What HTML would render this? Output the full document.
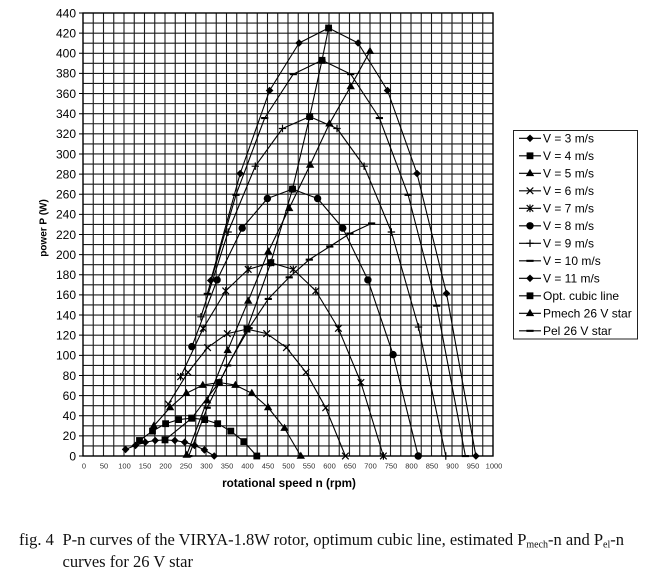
<!DOCTYPE html>
<html><head><meta charset="utf-8"><style>
html,body{margin:0;padding:0;background:#fff;}
svg{display:block;}
</style></head><body>
<svg width="655" height="583" viewBox="0 0 655 583" xmlns="http://www.w3.org/2000/svg">
<defs>
<marker id="mD" markerUnits="userSpaceOnUse" markerWidth="12" markerHeight="12" refX="6" refY="6" overflow="visible"><path d="M6 2.2L9.8 6L6 9.8L2.2 6Z" fill="#000"/></marker>
<marker id="mS" markerUnits="userSpaceOnUse" markerWidth="12" markerHeight="12" refX="6" refY="6" overflow="visible"><rect x="2.6" y="2.6" width="6.8" height="6.8" fill="#000"/></marker>
<marker id="mT" markerUnits="userSpaceOnUse" markerWidth="12" markerHeight="12" refX="6" refY="6" overflow="visible"><path d="M6 1.6L10.2 8.8L1.8 8.8Z" fill="#000"/></marker>
<marker id="mX" markerUnits="userSpaceOnUse" markerWidth="12" markerHeight="12" refX="6" refY="6" overflow="visible"><path d="M2.7 2.7L9.3 9.3M2.7 9.3L9.3 2.7" stroke="#000" stroke-width="1.2" fill="none"/></marker>
<marker id="mA" markerUnits="userSpaceOnUse" markerWidth="12" markerHeight="12" refX="6" refY="6" overflow="visible"><path d="M2.7 2.7L9.3 9.3M2.7 9.3L9.3 2.7M6 2.2V9.8" stroke="#000" stroke-width="1.2" fill="none"/></marker>
<marker id="mC" markerUnits="userSpaceOnUse" markerWidth="12" markerHeight="12" refX="6" refY="6" overflow="visible"><circle cx="6" cy="6" r="3.7" fill="#000"/></marker>
<marker id="mP" markerUnits="userSpaceOnUse" markerWidth="12" markerHeight="12" refX="6" refY="6" overflow="visible"><path d="M6 2.3V9.7M2.3 6H9.7" stroke="#000" stroke-width="1.2" fill="none"/></marker>
<marker id="mM" markerUnits="userSpaceOnUse" markerWidth="12" markerHeight="12" refX="6" refY="6" overflow="visible"><rect x="2.4" y="5" width="7.2" height="2.1" fill="#000"/></marker>
</defs>

<!-- grid -->
<path fill="none" stroke="#1c1c1c" stroke-width="1.1" d="
M93.25 13V456M103.5 13V456M113.75 13V456M124 13V456M134.25 13V456M144.5 13V456M154.75 13V456M165 13V456M175.25 13V456M185.5 13V456M195.75 13V456M206 13V456M216.25 13V456M226.5 13V456M236.75 13V456M247 13V456M257.25 13V456M267.5 13V456M277.75 13V456M288 13V456M298.25 13V456M308.5 13V456M318.75 13V456M329 13V456M339.25 13V456M349.5 13V456M359.75 13V456M370 13V456M380.25 13V456M390.5 13V456M400.75 13V456M411 13V456M421.25 13V456M431.5 13V456M441.75 13V456M452 13V456M462.25 13V456M472.5 13V456M482.75 13V456
M83 445.93H493M83 435.86H493M83 425.8H493M83 415.73H493M83 405.66H493M83 395.59H493M83 385.52H493M83 375.46H493M83 365.39H493M83 355.32H493M83 345.25H493M83 335.18H493M83 325.12H493M83 315.05H493M83 304.98H493M83 294.91H493M83 284.84H493M83 274.78H493M83 264.71H493M83 254.64H493M83 244.57H493M83 234.5H493M83 224.44H493M83 214.37H493M83 204.3H493M83 194.23H493M83 184.16H493M83 174.1H493M83 164.03H493M83 153.96H493M83 143.89H493M83 133.82H493M83 123.76H493M83 113.69H493M83 103.62H493M83 93.55H493M83 83.48H493M83 73.42H493M83 63.35H493M83 53.28H493M83 43.21H493M83 33.14H493M83 23.08H493"/>
<rect x="83" y="13" width="410" height="443" fill="none" stroke="#000" stroke-width="1.4"/>
<!-- y ticks -->
<path stroke="#000" stroke-width="1" d="M79 456H83M79 435.86H83M79 415.73H83M79 395.59H83M79 375.46H83M79 355.32H83M79 335.18H83M79 315.05H83M79 294.91H83M79 274.78H83M79 254.64H83M79 234.5H83M79 214.37H83M79 194.23H83M79 174.1H83M79 153.96H83M79 133.82H83M79 113.69H83M79 93.55H83M79 73.42H83M79 53.28H83M79 33.14H83M79 13H83"/>

<!-- y labels -->
<g font-family="Liberation Sans, Arial, sans-serif" font-size="12" fill="#000" text-anchor="end">
<text x="76" y="460.3">0</text>
<text x="76" y="440.2">20</text>
<text x="76" y="420">40</text>
<text x="76" y="399.9">60</text>
<text x="76" y="379.8">80</text>
<text x="76" y="359.6">100</text>
<text x="76" y="339.5">120</text>
<text x="76" y="319.4">140</text>
<text x="76" y="299.2">160</text>
<text x="76" y="279.1">180</text>
<text x="76" y="258.9">200</text>
<text x="76" y="238.8">220</text>
<text x="76" y="218.7">240</text>
<text x="76" y="198.5">260</text>
<text x="76" y="178.4">280</text>
<text x="76" y="158.3">300</text>
<text x="76" y="138.1">320</text>
<text x="76" y="118">340</text>
<text x="76" y="97.9">360</text>
<text x="76" y="77.7">380</text>
<text x="76" y="57.6">400</text>
<text x="76" y="37.4">420</text>
<text x="76" y="17.3">440</text>
</g>
<!-- x labels -->
<g font-family="Liberation Sans, Arial, sans-serif" font-size="7.5" fill="#333" text-anchor="middle">
<text x="84" y="468.5">0</text>
<text x="104" y="468.5">50</text>
<text x="124.5" y="468.5">100</text>
<text x="145" y="468.5">150</text>
<text x="165.5" y="468.5">200</text>
<text x="186" y="468.5">250</text>
<text x="206.5" y="468.5">300</text>
<text x="227" y="468.5">350</text>
<text x="247.5" y="468.5">400</text>
<text x="268" y="468.5">450</text>
<text x="288.5" y="468.5">500</text>
<text x="309" y="468.5">550</text>
<text x="329.5" y="468.5">600</text>
<text x="350" y="468.5">650</text>
<text x="370.5" y="468.5">700</text>
<text x="391" y="468.5">750</text>
<text x="411.5" y="468.5">800</text>
<text x="432" y="468.5">850</text>
<text x="452.5" y="468.5">900</text>
<text x="473" y="468.5">950</text>
<text x="494" y="468.5">1000</text>
</g>

<text x="289" y="487" font-family="Liberation Sans, Arial, sans-serif" font-size="11.7" font-weight="bold" text-anchor="middle">rotational speed n (rpm)</text>
<text transform="translate(46.5,228) rotate(-90)" font-family="Liberation Sans, Arial, sans-serif" font-size="10" font-weight="bold" text-anchor="middle">power P (W)</text>

<!-- series -->
<g fill="none" stroke="#000" stroke-width="1.1" stroke-linejoin="round">
<polyline style="marker-start:url(#mD);marker-mid:url(#mD);marker-end:url(#mD)" points="125.6,449.4 135.5,445.4 145.3,442.2 155.2,440.5 165,439.9 174.8,440.5 184.7,442.2 194.5,445.4 204.4,449.9 214.2,456"/>
<polyline style="marker-start:url(#mS);marker-mid:url(#mS);marker-end:url(#mS)" points="139.5,440.5 152.5,431.1 165.6,423.7 178.6,419.6 191.7,418.2 204.7,419.6 217.7,423.7 230.8,431.1 243.8,441.6 256.8,456"/>
<polyline style="marker-start:url(#mT);marker-mid:url(#mT);marker-end:url(#mT)" points="153.8,425.9 170.1,407.5 186.4,393.2 202.8,385.1 219.1,382.5 235.4,385.1 251.8,393.2 268.1,407.5 284.5,428.1 300.8,456"/>
<polyline style="marker-start:url(#mX);marker-mid:url(#mX);marker-end:url(#mX)" points="168.3,404 188,372.3 207.6,347.6 227.3,333.6 247,329.1 266.7,333.6 286.4,347.6 306,372.3 325.7,407.8 345.4,456"/>
<polyline style="marker-start:url(#mA);marker-mid:url(#mA);marker-end:url(#mA)" points="180.6,376.7 203.2,328.4 225.7,290.9 248.2,269.4 270.8,262.7 293.3,269.4 315.8,290.9 338.4,328.4 360.9,382.5 383.4,456"/>
<polyline style="marker-start:url(#mC);marker-mid:url(#mC);marker-end:url(#mC)" points="191.9,346.6 217.1,279.9 242.2,228.1 267.4,198.5 292.5,189.1 317.6,198.5 342.8,228.1 367.9,279.9 393.1,354.6 418.2,456"/>
<polyline style="marker-start:url(#mP);marker-mid:url(#mP);marker-end:url(#mP)" points="200.9,316.8 228.1,232 255.3,166.2 282.5,128.5 309.7,116.6 337,128.5 364.1,166.2 391.4,232 418.5,327 445.8,456"/>
<polyline style="marker-start:url(#mM);marker-mid:url(#mM);marker-end:url(#mM)" points="207.3,293.8 236,194.8 264.7,118 293.3,74.1 322,60.3 350.7,74.1 379.4,118 408.1,194.8 436.7,305.6 465.4,456"/>
<polyline style="marker-start:url(#mD);marker-mid:url(#mD);marker-end:url(#mD)" points="210.7,280.5 240.2,173.5 269.6,90.5 299.1,43 328.6,28 358.1,43 387.5,90.5 417,173.5 446.5,293.4 475.9,456"/>
<polyline style="marker-start:url(#mS);marker-mid:url(#mS);marker-end:url(#mS)" points="165,439.9 191.7,418.2 219.1,382.5 247,329.1 270.8,262.7 292.5,189.1 309.7,116.6 322,60.3 328.6,28"/>
<polyline style="marker-start:url(#mT);marker-mid:url(#mT);marker-end:url(#mT)" points="186.7,455 207.2,400.6 227.7,350.3 248.2,300.9 268.3,251.6 289.2,208.3 310.1,165 329.4,123.7 350.7,86.4 370,51.2"/>
<polyline style="marker-start:url(#mM);marker-mid:url(#mM);marker-end:url(#mM)" points="188.8,456 207.2,407.7 227.7,365.4 249.1,328.1 268.3,298.9 289.2,277.3 309.3,259.6 329.8,246.5 349.9,233.5 371.6,223.4"/>
</g>

<!-- legend -->
<rect x="513.5" y="130.5" width="124" height="208.5" fill="#fff" stroke="#222" stroke-width="1"/>
<g fill="none" stroke="#000" stroke-width="1.1">
<polyline style="marker-mid:url(#mD)" points="519,138.3 530,138.3 541,138.3"/>
<polyline style="marker-mid:url(#mS)" points="519,155.8 530,155.8 541,155.8"/>
<polyline style="marker-mid:url(#mT)" points="519,173.3 530,173.3 541,173.3"/>
<polyline style="marker-mid:url(#mX)" points="519,190.8 530,190.8 541,190.8"/>
<polyline style="marker-mid:url(#mA)" points="519,208.3 530,208.3 541,208.3"/>
<polyline style="marker-mid:url(#mC)" points="519,225.8 530,225.8 541,225.8"/>
<polyline style="marker-mid:url(#mP)" points="519,243.3 530,243.3 541,243.3"/>
<polyline style="marker-mid:url(#mM)" points="519,260.8 530,260.8 541,260.8"/>
<polyline style="marker-mid:url(#mD)" points="519,278.3 530,278.3 541,278.3"/>
<polyline style="marker-mid:url(#mS)" points="519,295.8 530,295.8 541,295.8"/>
<polyline style="marker-mid:url(#mT)" points="519,313.3 530,313.3 541,313.3"/>
<polyline style="marker-mid:url(#mM)" points="519,330.8 530,330.8 541,330.8"/>
</g>
<g font-family="Liberation Sans, Arial, sans-serif" font-size="12" fill="#000">
<text x="543" y="142.6">V = 3 m/s</text>
<text x="543" y="160.1">V = 4 m/s</text>
<text x="543" y="177.6">V = 5 m/s</text>
<text x="543" y="195.1">V = 6 m/s</text>
<text x="543" y="212.6">V = 7 m/s</text>
<text x="543" y="230.1">V = 8 m/s</text>
<text x="543" y="247.6">V = 9 m/s</text>
<text x="543" y="265.1">V = 10 m/s</text>
<text x="543" y="282.6">V = 11 m/s</text>
<text x="543" y="300.1">Opt. cubic line</text>
<text x="543" y="317.6">Pmech 26 V star</text>
<text x="543" y="335.1">Pel 26 V star</text>
</g>

<!-- caption -->
<g font-family="Liberation Serif, Times New Roman, serif" font-size="16.5" fill="#111">
<text x="19" y="545">fig. 4</text>
<text x="62.5" y="545">P-n curves of the VIRYA-1.8W rotor, optimum cubic line, estimated P<tspan font-size="10" dy="2.5">mech</tspan><tspan dy="-2.5">-n and P</tspan><tspan font-size="10" dy="2.5">el</tspan><tspan dy="-2.5">-n</tspan></text>
<text x="62.5" y="567">curves for 26 V star</text>
</g>
</svg>
</body></html>
